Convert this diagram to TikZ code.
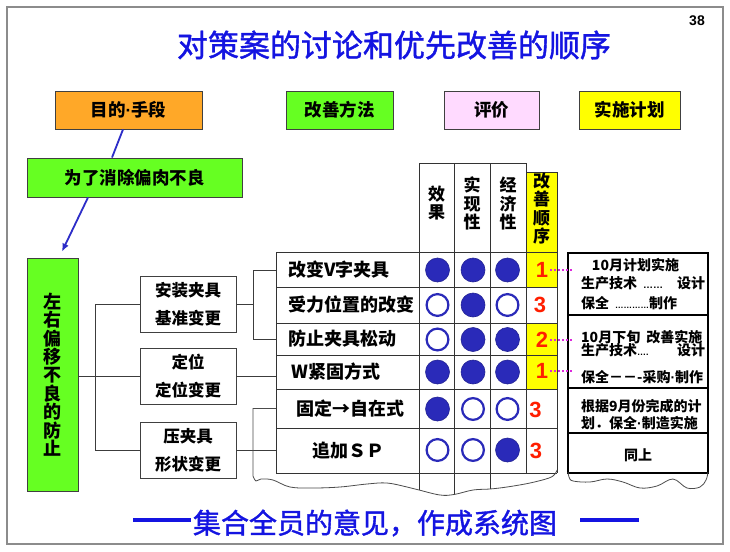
\documentclass[tikz,border=0pt]{standalone}
\usepackage{fontspec}
\setmainfont{Liberation Sans}
\newfontfamily\cjk{Noto Sans CJK SC}
\newfontfamily\cjkm{Noto Sans CJK SC}[FakeBold=1.3]
\usetikzlibrary{arrows.meta}
\definecolor{frameg}{RGB}{140,140,140}
\definecolor{orng}{RGB}{255,168,40}
\definecolor{grn}{RGB}{102,255,34}
\definecolor{pnk}{RGB}{255,218,255}
\definecolor{ylw}{RGB}{255,255,0}
\definecolor{ttl}{RGB}{20,20,225}
\definecolor{dotblue}{RGB}{42,42,185}
\definecolor{rednum}{RGB}{255,30,0}
\definecolor{mag}{RGB}{220,40,220}
\definecolor{lnc}{RGB}{60,60,60}
\definecolor{arrowblue}{RGB}{45,45,200}
\newcommand{\fsz}[2]{\fontsize{#1}{#2}\selectfont}
\newcommand{\smdots}[2]{{\rmfamily\fontsize{#1}{#1}\selectfont #2}}
\newcommand{\mdot}{{\rmfamily\bfseries ·}}
\begin{document}
\begin{tikzpicture}[x=1pt,y=-1pt,
 tbox/.style={draw=black!75, line width=0.9pt, inner sep=0pt, font=\cjk\bfseries\fsz{17.5}{17.5}},
 subbox/.style={draw=black!75, line width=0.8pt, fill=white, inner sep=0pt, minimum width=96pt, minimum height=56pt, align=center, font=\cjk\bfseries\fsz{16.5}{28}},
 cell/.style={inner xsep=12pt, inner ysep=0pt, text width=119pt, anchor=west, align=left, font=\cjk\bfseries\fsz{18}{18}},
 fcirc/.style={circle, fill=dotblue, draw=dotblue!80!black, line width=0.6pt, minimum size=24pt, inner sep=0pt},
 ocirc/.style={circle, fill=white, draw=dotblue, line width=2.2pt, minimum size=21.8pt, inner sep=0pt},
 numb/.style={font=\bfseries\fsz{22}{22}, text=rednum, inner sep=0pt},
 vhead/.style={font=\cjk\bfseries\fsz{17}{18.5}, align=center, inner sep=0pt},
 plantext/.style={font=\cjk\bfseries\fsz{14}{14}, anchor=west, inner sep=0pt},
 conn/.style={draw=lnc, line width=0.8pt},
 gridl/.style={draw=black!80, line width=0.8pt},
 paper/.style={draw=black!70, line width=0.8pt},
 dotc/.style={draw=mag, line width=2pt, dotted, shorten >=-5pt}]
\fill[white] (0,0) rectangle (730,551);
\useasboundingbox (0,0) rectangle (730,551);
\draw[frameg, line width=1.5pt] (7,7) rectangle (723,544);
% title
\node[text=ttl, font=\cjkm\fsz{31}{31}, inner sep=0pt] (title) at (394,45) {对策案的讨论和优先改善的顺序};
\node[font=\bfseries\fsz{14}{14}, inner sep=0pt] (pg) at (697,21) {38};
% header boxes
\node[tbox, fill=orng, minimum width=147pt, minimum height=38pt] (mj) at (128.5,110) {目的\mdot 手段};
\node[tbox, fill=grn, minimum width=107pt, minimum height=38pt] (gf) at (339.5,110) {改善方法};
\node[tbox, fill=pnk, minimum width=95pt, minimum height=38pt] (pj) at (491.5,110) {评价};
\node[tbox, fill=ylw, minimum width=101pt, minimum height=38pt] (ss) at (629.5,110) {实施计划};
\node[tbox, fill=grn, minimum width=215pt, minimum height=39pt] (wl) at (134.5,177.5) {为了消除偏肉不良};
\node[tbox, fill=grn, minimum width=51pt, minimum height=233pt, align=center, font=\cjk\bfseries\fsz{18}{18.4}] (zy) at (52.5,374.5) {左\\右\\偏\\移\\不\\良\\的\\防\\止};
\draw[arrowblue, line width=1.8pt] ([xshift=-5.5pt]mj.south) -- ([xshift=-22.5pt]wl.north);
\draw[arrowblue, line width=1.8pt, -{Latex[length=8pt,width=7pt]}] ([xshift=-46.5pt]wl.south) -- ([xshift=9.5pt,yshift=6pt]zy.north);
% sub boxes
\node[subbox] (az) at (188,304) {安装夹具\\基准变更};
\node[subbox] (dw) at (188,376.5) {定位\\定位变更};
\node[subbox] (yj) at (188,450) {压夹具\\形状变更};
\coordinate (tx) at (95,0);
\coordinate (bx) at (253,0);
\draw[conn] (zy.east |- dw.west) -- (dw.west);
\draw[conn] (az.west) -- (az.west -| tx) -- (yj.west -| tx) -- (yj.west);
% table fills
\fill[ylw] (526,172) rectangle (557,287);
\fill[ylw] (526,323) rectangle (557,389);
% item cells
\node[cell] (r1) at (276,270) {改变V字夹具};
\node[cell] (r2) at (276,305) {受力位置的改变};
\node[cell] (r3) at (276,339) {防止夹具松动};
\node[cell] (r4) at (276,372) {\hspace*{3pt}W紧固方式};
\node[cell] (r5) at (276,408.5) {\hspace*{8pt}固定→自在式};
\node[cell] (r6) at (276,451) {\hspace*{24pt}追加ＳＰ};
% grid
\draw[gridl] (419,163) -- (526,163);
\draw[gridl] (419,163) -- (419,490);
\draw[gridl] (454,163) -- (454,494.5);
\draw[gridl] (490,163) -- (490,489);
\draw[gridl] (526,163) -- (526,473);
\draw[gridl] (526,172) -- (557,172) -- (557,473);
\foreach \yy in {252,287,323,355,389,428,473} \draw[gridl] (276,\yy) -- (557,\yy);
\draw[gridl] (276,252) -- (276,473);
% brackets
\draw[conn] (az.east) -- (az.east -| bx);
\draw[conn] (r1.west) -- (r1.west -| bx) -- (r3.west -| bx) -- (r3.west);
\draw[conn] (dw.east) -- (dw.east -| r4.west);
\draw[conn] (yj.east) -- (yj.east -| r6.west);
% paper under table
\draw[paper] (r5.west) -- (r5.west -| bx) -- (253,476) -- plot[smooth, tension=0.6] coordinates {(253,476) (256,481) (261,479) (273,480) (290,487) (313,488) (340,487) (367,484) (387,483) (407,487) (419,490) (440,495) (454,494.5) (473,490) (490,489) (507,487) (530,483) (549,478) (555,474) (557,470)};
% header texts
\node[vhead] (h1) at (436.5,203) {效\\果};
\node[vhead] (h2) at (472,203.5) {实\\现\\性};
\node[vhead] (h3) at (508,203.5) {经\\济\\性};
\node[vhead] (h4) at (541.5,208.5) {改\\善\\顺\\序};
% circles
\node[fcirc] (c11) at (437.5,270) {};
\node[fcirc] (c12) at (473,270) {};
\node[fcirc] (c13) at (507.5,270) {};
\node[ocirc] (c21) at (437.5,305) {};
\node[fcirc] (c22) at (473,305) {};
\node[ocirc] (c23) at (507.5,305) {};
\node[ocirc] (c31) at (437.5,339.5) {};
\node[fcirc] (c32) at (473,339.5) {};
\node[fcirc] (c33) at (507.5,339.5) {};
\node[fcirc] (c41) at (437.5,372) {};
\node[fcirc] (c42) at (473,372) {};
\node[fcirc] (c43) at (507.5,372) {};
\node[fcirc] (c51) at (437.5,409) {};
\node[ocirc] (c52) at (473,409) {};
\node[ocirc] (c53) at (507.5,409) {};
\node[ocirc] (c61) at (437.5,450) {};
\node[ocirc] (c62) at (473,450) {};
\node[fcirc] (c63) at (507.5,450) {};
% numbers
\node[numb] (n1) at (542,270) {1};
\node[numb] (n2) at (540,305) {3};
\node[numb] (n3) at (542,340) {2};
\node[numb] (n4) at (542,371) {1};
\node[numb] (n5) at (535.5,410) {3};
\node[numb] (n6) at (536,451) {3};
% plan box
\node[draw=black, line width=1.3pt, minimum width=140pt, minimum height=220pt, inner sep=0pt] (pb) at (638,363) {};
\draw[black, line width=1.1pt] (568,315) -- (708,315);
\draw[black, line width=1.1pt] (568,388) -- (708,388);
\draw[black, line width=1.1pt] (568,433) -- (708,433);
\draw[dotc] ([xshift=2pt]n1.east) -- (n1.east -| pb.west);
\draw[dotc] ([xshift=2pt]n3.east) -- (n3.east -| pb.west);
\draw[dotc] ([xshift=2pt]n4.east) -- (n4.east -| pb.west);
\node[plantext, anchor=center] (p1) at (635.5,265) {10月计划实施};
\node[plantext] (p2) at (581,283) {\makebox[124pt][l]{生产技术\hspace{6pt}\smdots{10}{……}\hfill 设计}};
\node[plantext] (p3) at (581,303) {保全\hspace{6pt}\smdots{8.5}{…………}制作};
\node[plantext] (p4) at (581,337) {10月下旬\hspace{6pt}改善实施};
\node[plantext] (p5) at (581,350) {\makebox[124pt][l]{生产技术\smdots{9}{….}\hfill 设计}};
\node[plantext] (p6) at (581,377) {保全－－-采购\mdot 制作};
\node[plantext] (p7) at (581,406) {根据9月份完成的计};
\node[plantext] (p8) at (581,423) {划．保全\mdot 制造实施};
\node[plantext, anchor=center] (p9) at (638,455) {同上};
% paper under plan
\draw[paper] plot[smooth, tension=0.6] coordinates {(568,472) (569,477) (573,481) (590,482) (607,479) (623,482) (640,488) (657,486) (673,479) (687,488) (700,487) (706,480) (708,472)};
% bottom
\node[text=ttl, font=\cjkm\fsz{28}{28}, inner sep=0pt] (bt) at (375,523) {集合全员的意见，作成系统图};
\draw[ttl, line width=3.5pt] ([xshift=-2pt,yshift=3pt]bt.west) -- ++(-58,0);
\draw[ttl, line width=3.5pt] ([xshift=23pt,yshift=3pt]bt.east) -- ++(59,0);
\end{tikzpicture}
\end{document}
